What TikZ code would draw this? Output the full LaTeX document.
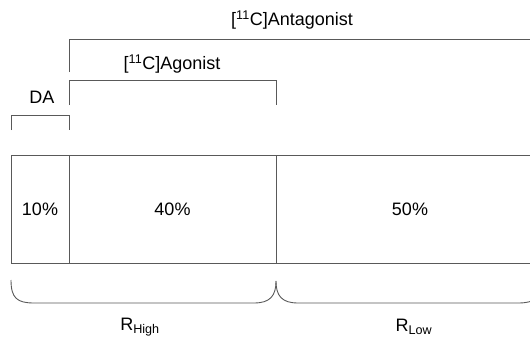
\documentclass[tikz,border=0pt]{standalone}
\usepackage{fontspec}
\setmainfont{Liberation Sans}
\usetikzlibrary{positioning}

\definecolor{linegray}{HTML}{595959}

\begin{document}
\begin{tikzpicture}[x=1pt, y=-1pt,
    cell/.style ={rectangle, draw=linegray, line width=0.9pt, minimum height=108pt, inner sep=0pt, outer sep=0pt, font=\fontsize{18}{21}\selectfont},
    bracket/.style ={draw=linegray, line width=0.9pt},
    tag/.style ={inner sep=0pt, font=\fontsize{18}{21}\selectfont}]
   \useasboundingbox (0,0) rectangle (530,340);
   \clip (0,0) rectangle (530,340);

   % the three fractions
   \node[cell, minimum width=58pt] (low) at (40,209) {10\%};
   \node[cell, minimum width=207pt, right=0pt of low] (mid) {40\%};
   \node[cell, minimum width=268pt, right=0pt of mid] (high) {50\%};

   % square brackets over the box
   \coordinate (da1) at (11,130);  \coordinate (da2) at (11,115);
   \coordinate (da3) at (69,115);  \coordinate (da4) at (69,130);
   \coordinate (ag1) at (69,105);  \coordinate (ag2) at (69,80);
   \coordinate (ag3) at (276,80);  \coordinate (ag4) at (276,105);
   \coordinate (an1) at (69,72);   \coordinate (an2) at (69,39);
   \coordinate (an3) at (545,39);

   \draw[bracket] (da1) -- (da2) -- (da3) -- (da4);
   \draw[bracket] (ag1) -- (ag2) -- (ag3) -- (ag4);
   \draw[bracket] (an1) -- (an2) -- (an3);

   \node[tag] (da) at (42,97) {DA};
   \node[tag] (ag) at (172,64) {[\textsuperscript{11}C]Agonist};
   \node[tag] (an) at (292,20) {[\textsuperscript{11}C]Antagonist};

   % braces under the box
   \coordinate (rh1) at (11,280);  \coordinate (rh2) at (276,281);
   \coordinate (rl1) at (276,281); \coordinate (rl2) at (541,280);

   \draw[bracket] (rh1) .. controls (11,298) and (17,303) .. (34,303) -- (254,303)
      .. controls (270,303) and (276,296) .. (rh2);
   \draw[bracket] (rl1) .. controls (276,296) and (282,303) .. (298,303) -- (518,303)
      .. controls (535,303) and (541,298) .. (rl2);

   \node[tag] (rhigh) at (140,327) {R\textsubscript{High}};
   \node[tag] (rlow) at (414,327) {R\textsubscript{Low}};
\end{tikzpicture}
\end{document}
